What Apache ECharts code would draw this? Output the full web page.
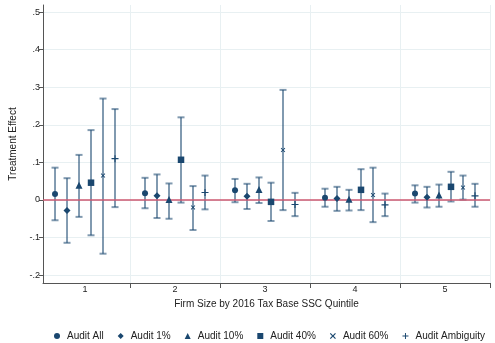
<!DOCTYPE html>
<html>
<head>
<meta charset="utf-8">
<script src="https://cdn.jsdelivr.net/npm/echarts@6/dist/echarts.min.js"></script>
<style>
  html, body { margin: 0; padding: 0; background: #fff; }
  #chart { width: 495px; height: 343px; }
</style>
</head>
<body>
<div id="chart"></div>
<script>
// Quintile labels and the six audit treatments
const quintiles = ['1', '2', '3', '4', '5'];
const seriesNames = ['Audit All', 'Audit 1%', 'Audit 10%', 'Audit 40%', 'Audit 60%', 'Audit Ambiguity'];

// Point estimates by quintile
const estAll  = [0.016, 0.018, 0.026, 0.006, 0.017];
const est1    = [-0.028, 0.011, 0.010, 0.004, 0.007];
const est10   = [0.039, 0.001, 0.028, 0.002, 0.013];
const est40   = [0.046, 0.107, -0.005, 0.027, 0.035];
const est60   = [0.065, -0.020, 0.133, 0.013, 0.033];
const estAmb  = [0.110, 0.020, -0.012, -0.013, 0.011];

// Confidence interval bounds
const loAll = [-0.054, -0.022, -0.006, -0.018, -0.007];
const hiAll = [0.086, 0.059, 0.056, 0.030, 0.039];
const lo1   = [-0.114, -0.048, -0.024, -0.029, -0.020];
const hi1   = [0.058, 0.068, 0.043, 0.035, 0.035];
const lo10  = [-0.045, -0.050, -0.008, -0.028, -0.018];
const hi10  = [0.120, 0.044, 0.060, 0.027, 0.041];
const lo40  = [-0.094, -0.007, -0.056, -0.027, -0.004];
const hi40  = [0.186, 0.220, 0.046, 0.082, 0.075];
const lo60  = [-0.143, -0.080, -0.027, -0.059, 0.001];
const hi60  = [0.270, 0.037, 0.293, 0.086, 0.065];
const loAmb = [-0.019, -0.025, -0.043, -0.043, -0.018];
const hiAmb = [0.242, 0.065, 0.019, 0.017, 0.043];

const yTicks = [-0.2, -0.1, 0, 0.1, 0.2, 0.3, 0.4, 0.5];

const estimates = [estAll, est1, est10, est40, est60, estAmb];
const lowers = [loAll, lo1, lo10, lo40, lo60, loAmb];
const uppers = [hiAll, hi1, hi10, hi40, hi60, hiAmb];

const navy = '#1a476f';
const barColor = 'rgba(26,71,111,0.55)';
const symbols = [
  'circle',
  'diamond',
  'triangle',
  'rect',
  'path://M1.4,0L5,3.6L8.6,0L10,1.4L6.4,5L10,8.6L8.6,10L5,6.4L1.4,10L0,8.6L3.6,5L0,1.4Z',
  'path://M4.2,0H5.8V4.2H10V5.8H5.8V10H4.2V5.8H0V4.2H4.2Z'
];
const symbolSizes = [6, 7, 7, 6.5, 4.5, 7];

// horizontal offset of each treatment within a quintile
function xPos(q, k) { return (q + 1) + (k - 2.5) * (12 / 90); }

function fmtY(v) {
  if (Math.abs(v) < 1e-9) return '0';
  const s = Math.abs(v).toFixed(1).replace(/^0/, '');
  return (v < 0 ? '-' : '') + s;
}

const series = [];
seriesNames.forEach((name, k) => {
  series.push({
    type: 'custom',
    name: name + ' CI',
    z: 2,
    silent: true,
    data: quintiles.map((_, q) => [xPos(q, k), lowers[k][q], uppers[k][q]]),
    renderItem: function (params, api) {
      const x = api.value(0);
      const a = api.coord([x, api.value(1)]);
      const b = api.coord([x, api.value(2)]);
      const cap = 3.5;
      const st = { stroke: barColor, lineWidth: 2 };
      return {
        type: 'group',
        children: [
          { type: 'line', shape: { x1: a[0], y1: a[1], x2: b[0], y2: b[1] }, style: st },
          { type: 'line', shape: { x1: a[0] - cap, y1: a[1], x2: a[0] + cap, y2: a[1] }, style: st },
          { type: 'line', shape: { x1: b[0] - cap, y1: b[1], x2: b[0] + cap, y2: b[1] }, style: st }
        ]
      };
    },
    markLine: k === 0 ? {
      silent: true,
      symbol: 'none',
      label: { show: false },
      lineStyle: { color: '#cc5870', width: 1.5, type: 'solid' },
      data: [{ yAxis: 0 }]
    } : undefined
  });
});
seriesNames.forEach((name, k) => {
  series.push({
    type: 'scatter',
    name: name,
    z: 5,
    symbol: symbols[k],
    symbolSize: symbolSizes[k],
    itemStyle: { color: navy, opacity: 1 },
    data: quintiles.map((_, q) => [xPos(q, k), estimates[k][q]])
  });
});

const chart = echarts.init(document.getElementById('chart'), null, { renderer: 'canvas' });
chart.setOption({
  animation: false,
  backgroundColor: '#ffffff',
  textStyle: { fontFamily: 'Liberation Sans, Arial, sans-serif' },
  grid: { left: 43, right: 5, top: 5, bottom: 60 },
  xAxis: {
    type: 'value',
    min: 0.533,
    max: 5.5,
    name: 'Firm Size by 2016 Tax Base SSC Quintile',
    nameLocation: 'middle',
    nameGap: 11,
    nameTextStyle: { fontSize: 10, color: '#222' },
    axisLine: { show: true, onZero: false, lineStyle: { color: '#555', width: 1 } },
    axisTick: { show: true, length: 5, customValues: [1.5, 2.5, 3.5, 4.5, 5.5], lineStyle: { color: '#555' } },
    axisLabel: {
      customValues: [1, 2, 3, 4, 5],
      fontSize: 9,
      color: '#222',
      margin: 2,
      formatter: v => quintiles[Math.round(v) - 1]
    },
    splitLine: { show: true, lineStyle: { color: '#e8f0f2', width: 1 } }
  },
  yAxis: {
    type: 'value',
    min: -0.221,
    max: 0.519,
    name: 'Treatment Effect',
    nameLocation: 'middle',
    nameGap: 24,
    nameTextStyle: { fontSize: 10, color: '#222' },
    axisLine: { show: true, onZero: false, lineStyle: { color: '#555', width: 1 } },
    axisTick: { show: true, length: 4, customValues: yTicks, lineStyle: { color: '#555' } },
    axisLabel: { customValues: yTicks, fontSize: 9, color: '#222', margin: 3, formatter: fmtY },
    splitLine: { show: true, lineStyle: { color: '#e8f0f2', width: 1 } }
  },
  legend: {
    data: seriesNames,
    left: 49,
    top: 326,
    itemWidth: 6,
    itemHeight: 6,
    itemGap: 14,
    textStyle: { fontSize: 10, color: '#222', padding: [0, 0, 0, 2] },
    itemStyle: { color: navy }
  },
  series: series
});
</script>
</body>
</html>
